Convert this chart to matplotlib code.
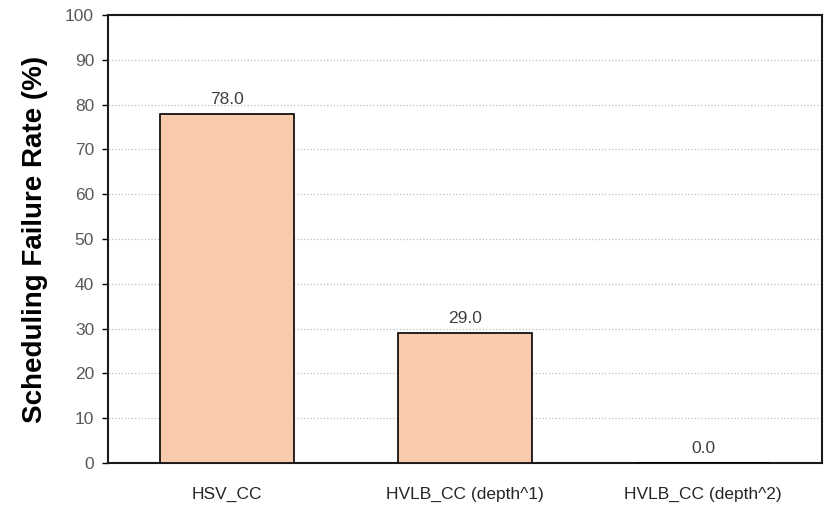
import matplotlib.pyplot as plt
from matplotlib import font_manager

categories = ["HSV_CC", "HVLB_CC (depth^1)", "HVLB_CC (depth^2)"]
values = [78.0, 29.0, 0.0]
y_ticks = [0, 10, 20, 30, 40, 50, 60, 70, 80, 90, 100]

names = {f.name for f in font_manager.fontManager.ttflist}
tick_font = "Liberation Sans Narrow" if "Liberation Sans Narrow" in names else "Liberation Sans"

fig = plt.figure(figsize=(8.3, 5.13), dpi=100)
ax = fig.add_axes([108 / 830, 50 / 513, 714 / 830, 448 / 513])

inds = range(len(categories))
ax.bar(inds, values, width=0.56, color="#F8CBAD", edgecolor="black", linewidth=1.2, zorder=3)

for x_loc, y_loc in zip(inds, values):
    ax.annotate(f"{y_loc:.1f}", (x_loc, y_loc), xytext=(0, 5), textcoords="offset points",
                ha="center", va="bottom", fontsize=12.5, color="#404040", family=tick_font)

ax.set_xlim(-0.5, 2.5)
ax.set_ylim(0, 100)
ax.set_yticks(y_ticks)
ax.set_xticks(list(inds))
ax.set_xticklabels(categories)
ax.grid(axis="y", linestyle=":", color="#BFBFBF", linewidth=0.9, zorder=0)

for s in ax.spines.values():
    s.set_linewidth(1.5)
    s.set_color("#1a1a1a")

ax.tick_params(axis="y", direction="out", length=4, width=1, labelsize=12.5, labelcolor="#595959", pad=6)
ax.tick_params(axis="x", length=0, labelsize=12.5, labelcolor="#262626", pad=17)
for lab in ax.get_xticklabels() + ax.get_yticklabels():
    lab.set_family(tick_font)

ax.set_ylabel("Scheduling Failure Rate (%)", fontsize=20, fontweight="bold",
              family="Liberation Sans", labelpad=12)

fig.savefig("out.png", dpi=100)
